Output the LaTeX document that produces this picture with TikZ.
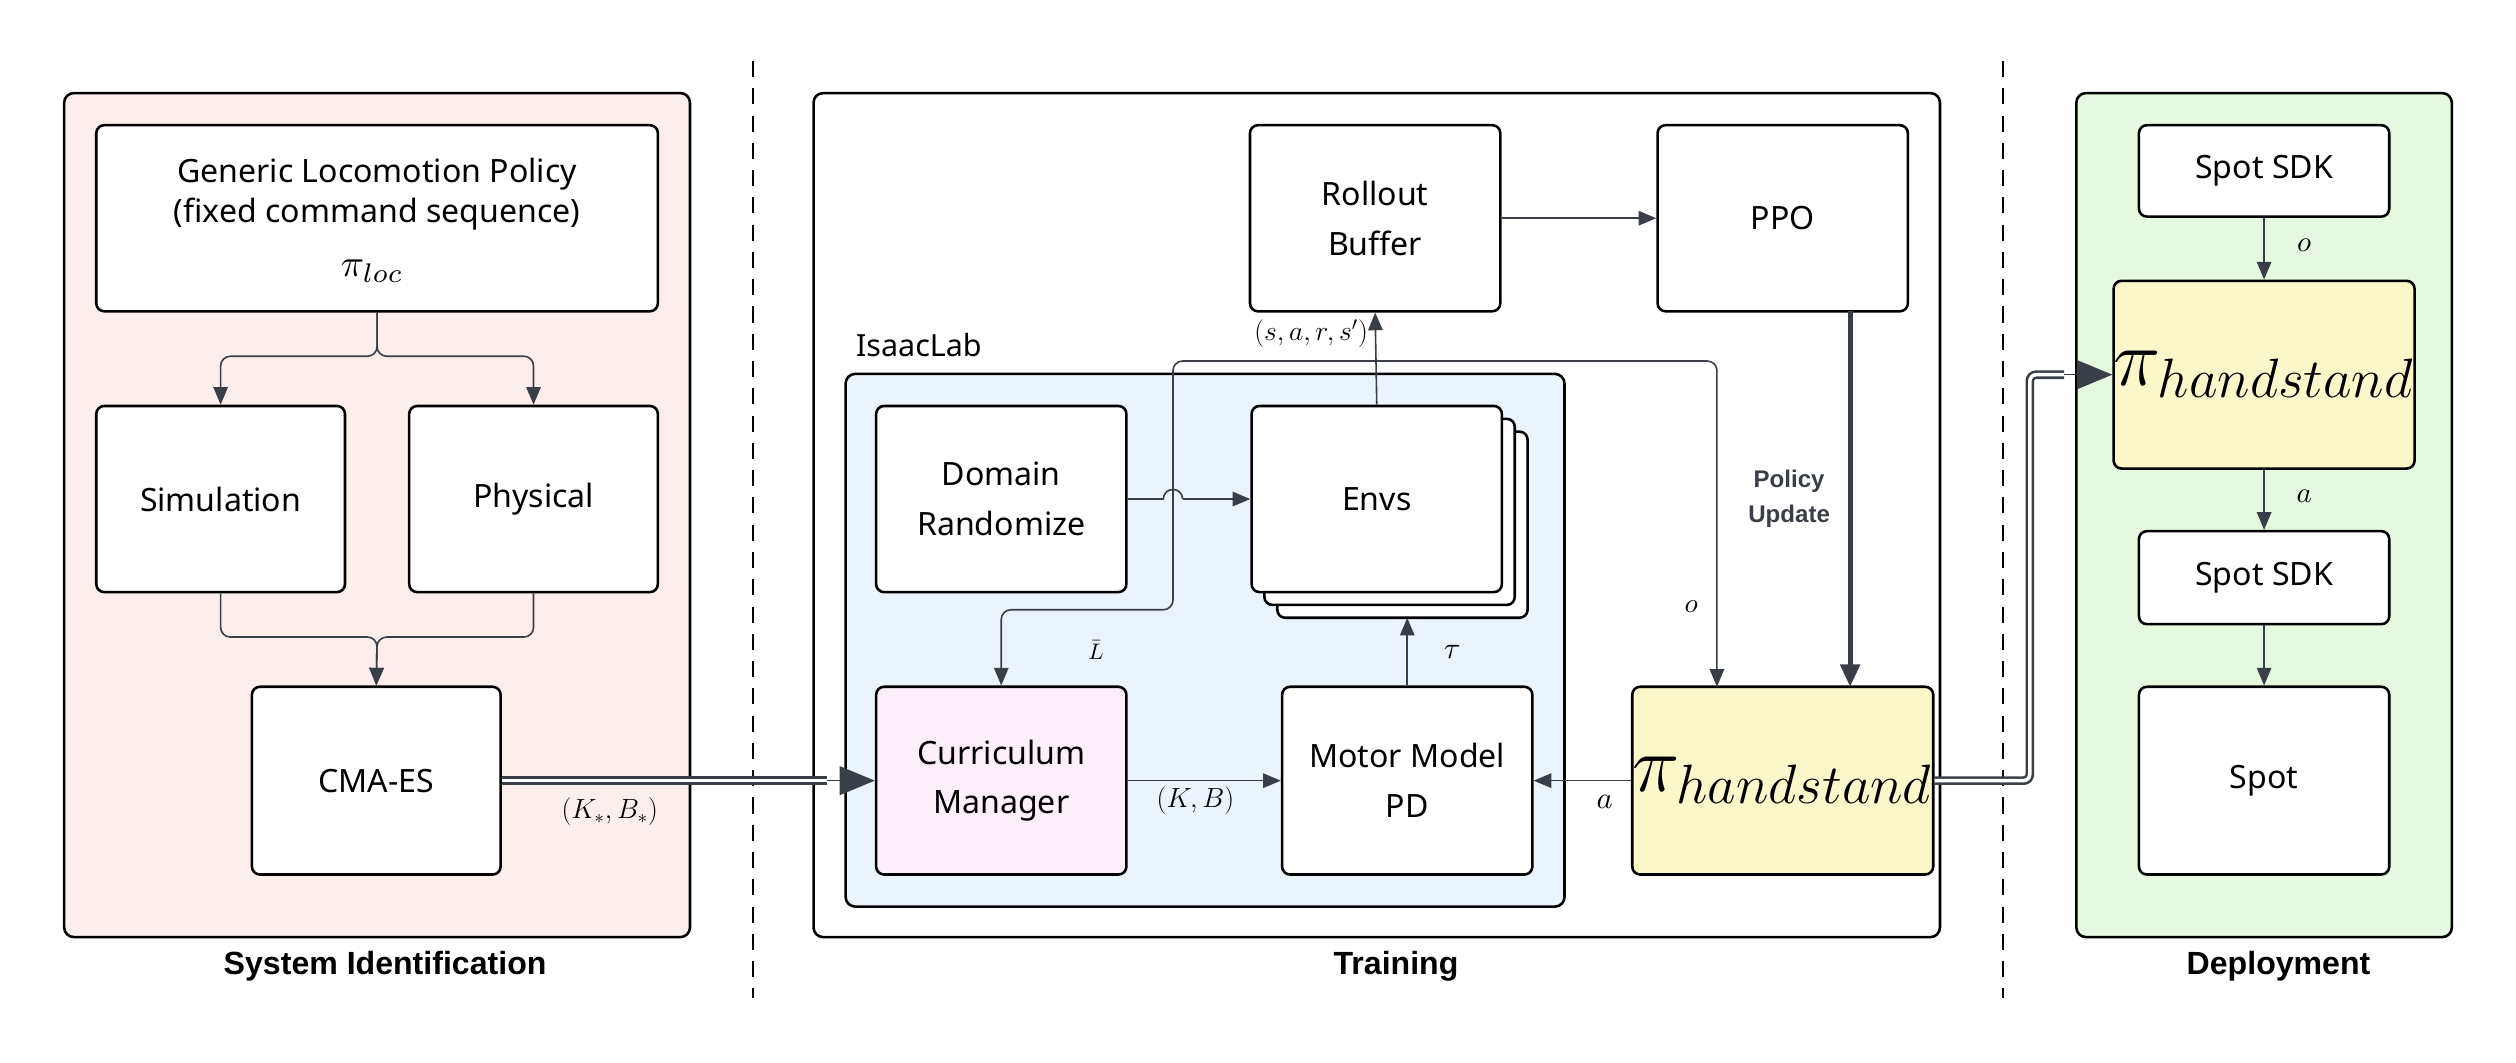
\documentclass[tikz,border=0pt]{standalone}
\usepackage{fontspec}
\setmainfont{Noto Sans}
\newfontfamily\labfont{Liberation Sans}
\usetikzlibrary{arrows.meta,calc}
\definecolor{ln}{HTML}{3A3F47}
\definecolor{pinkbg}{HTML}{FDEEEE}
\definecolor{greenbg}{HTML}{E6F9E0}
\definecolor{bluebg}{HTML}{EBF3FD}
\definecolor{curr}{HTML}{FCEFFA}
\definecolor{yel}{HTML}{FAF8CB}
\newcommand{\bigmath}[1]{\scalebox{2.4}{$#1$}}
\begin{document}
\begin{tikzpicture}[x=1pt,y=-1pt,
  box/.style={draw=black,line width=1.6pt,rounded corners=5pt,fill=white,align=center,font=\fontsize{20}{25}\selectfont,inner sep=0pt},
  panel/.style={draw=black,line width=1.6pt,rounded corners=6pt},
  arr/.style={draw=ln,line width=1pt,-{Triangle[length=11pt,width=9pt]},rounded corners=6pt},
  thk/.style={draw=ln,line width=3pt,-{Triangle[length=14pt,width=12pt]}},
  bigtip/.style={draw=ln,line width=1pt,-{Triangle[length=22pt,width=18pt]}},
  dbl/.style={draw=ln,double=white,double distance=2.2pt,line width=1.6pt,rounded corners=4pt},
  lab/.style={font=\fontsize{20}{24}\selectfont\labfont\bfseries},
  mth/.style={font=\fontsize{17}{20}\selectfont}]
\useasboundingbox (0,0) rectangle (1568,662);
% panels
\draw[panel,fill=pinkbg] (40,58) rectangle (430,584);
\draw[panel,fill=white] (507,58) rectangle (1209,584);
\draw[panel,fill=greenbg] (1294,58) rectangle (1528,584);
\node[lab] (t1) at (240,602) {System Identification};
\node[lab] (t2) at (870,602) {Training};
\node[lab] (t3) at (1420,602) {Deployment};
\draw[line width=1.3pt,dash pattern=on 10pt off 7pt] (469,38) -- (469,622);
\draw[line width=1.3pt,dash pattern=on 10pt off 7pt] (1248,38) -- (1248,622);
% isaaclab
\draw[panel,fill=bluebg] (527,233) rectangle (975,565);
\node[anchor=west,font=\fontsize{19}{23}\selectfont] (il) at (530,215) {IsaacLab};
% left nodes
\node[box,minimum width=350pt,minimum height=116pt] (gen) at (235,136) {};
\node[font=\fontsize{20}{25}\selectfont,align=center] (gent) at (235,121) {Generic Locomotion Policy\\(fixed command sequence)};
\node (genm) at (232,169) {\bigmath{\pi_{loc}}};
\node[box,minimum width=155pt,minimum height=116pt] (sim) at (137.5,311) {Simulation};
\node[box,minimum width=155pt,minimum height=116pt] (phy) at (332.5,311) {Physical};
\node[box,minimum width=155pt,minimum height=117pt] (cma) at (234.5,486.5) {CMA-ES};
% middle
\node[box,minimum width=156pt,minimum height=116pt] (dr) at (624,311) {Domain\\[6pt]Randomize};
\node[box,minimum width=156pt,minimum height=116pt] (e3) at (874,327) {};
\node[box,minimum width=156pt,minimum height=116pt] (e2) at (866,319) {};
\node[box,minimum width=156pt,minimum height=116pt] (envs) at (858,311) {Envs};
\node[box,fill=curr,minimum width=156pt,minimum height=117pt] (cm) at (624,486.5) {Curriculum\\[6pt]Manager};
\node[box,minimum width=156pt,minimum height=117pt] (mm) at (877,486.5) {Motor Model\\[6pt]PD};
\node[box,minimum width=156pt,minimum height=116pt] (rb) at (857,136) {Rollout\\[6pt]Buffer};
\node[box,minimum width=156pt,minimum height=116pt] (ppo) at (1111,136) {PPO};
\node[box,fill=yel,minimum width=156pt,minimum height=117pt] (pih) at (1111,486.5) {\bigmath{\pi_{handstand}}};
% right
\node[box,minimum width=156pt,minimum height=57pt] (sdk1) at (1411,106.5) {Spot SDK};
\node[box,fill=yel,minimum width=156pt,minimum height=117pt] (pir) at (1411,233.5) {\bigmath{\pi_{handstand}}};
\node[box,minimum width=156pt,minimum height=58pt] (sdk2) at (1411,360) {Spot SDK};
\node[box,minimum width=156pt,minimum height=117pt] (spot) at (1411,486.5) {Spot};
% left arrows
\coordinate (g1) at (235,222);
\draw[arr] (gen.south) -- (g1) -| (sim.north);
\draw[arr] (gen.south) -- (g1) -| (phy.north);
\coordinate (g2) at (235,397);
\draw[arr] (sim.south) |- (g2) -- (cma.north);
\draw[arr] (phy.south) |- (g2) -- (cma.north);
% double arrows
\coordinate (c1) at ($(cm.west)+(-30,0)$);
\draw[dbl] (cma.east) -- (c1);
\draw[bigtip] (c1) -- (cm.west);
\node[mth] (kb1) at (380,506) {$(K_*,B_*)$};
\coordinate (p1) at (1265,486.5);
\coordinate (p2) at (1265,233.5);
\coordinate (p3) at ($(pir.west)+(-30,0)$);
\draw[dbl] (pih.east) -- (p1) -- (p2) -- (p3);
\draw[bigtip] (p3) -- (pir.west);
% middle arrows
\draw[arr] (cm.east) -- (mm.west);
\node[mth] (kb2) at (745,499) {$(K,B)$};
\draw[arr] (pih.west) -- (mm.east);
\node (la) at (1000,500) {\scalebox{1.9}{$a$}};
\draw[arr] (mm.north) -- (877,385);
\node (lt) at (905,406) {\scalebox{1.9}{$\tau$}};
\coordinate (h1) at (725,311);
\coordinate (h2) at (737,311);
\draw[draw=ln,line width=1pt] (dr.east) -- (h1) arc(180:360:6);
\draw[arr] (h2) -- (envs.west);
\draw[arr] (envs.north) -- (rb.south);
\node[mth,anchor=east] (ls) at (856,208) {$(s,a,r,s')$};
\coordinate (j) at (858,225);
\draw[arr] (j) -- (731,225) -- (731,380) -- (624,380) -- (cm.north);
\draw[arr] (j) -- (1070,225) -- (1070,428);
\node (lL) at (683,405) {\scalebox{1.4}{$\bar L$}};
\node (lo) at (1054,378) {\scalebox{1.7}{$o$}};
\draw[arr] (rb.east) -- (ppo.west);
\draw[thk] (1153,194) -- (1153,428);
\node[font=\fontsize{15}{22}\selectfont\labfont\bfseries,align=center,text=ln] (pu) at (1115,311) {Policy\\Update};
% right arrows
\draw[arr] (sdk1.south) -- (pir.north);
\draw[arr] (pir.south) -- (sdk2.north);
\draw[arr] (sdk2.south) -- (spot.north);
\node (ro) at (1436,153) {\scalebox{1.8}{$o$}};
\node (ra) at (1436,309) {\scalebox{1.8}{$a$}};
\end{tikzpicture}
\end{document}
